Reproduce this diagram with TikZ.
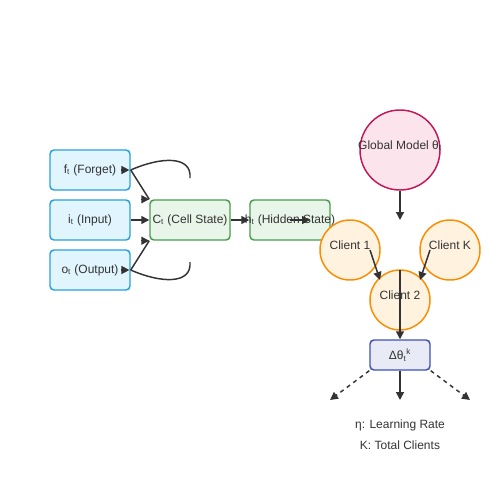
\documentclass[tikz,border=0pt]{standalone}
\usepackage{fontspec}
\setmainfont{Liberation Sans}
\usetikzlibrary{arrows.meta}
\definecolor{gateline}{HTML}{2B9FDB}
\definecolor{gatefill}{HTML}{E1F5FE}
\definecolor{stateline}{HTML}{4A9D4E}
\definecolor{statefill}{HTML}{E8F5E9}
\definecolor{globline}{HTML}{C2185B}
\definecolor{globfill}{HTML}{FCE4EC}
\definecolor{clientline}{HTML}{FB8C00}
\definecolor{clientfill}{HTML}{FFF3E0}
\definecolor{deltaline}{HTML}{3F51B5}
\definecolor{deltafill}{HTML}{E8EAF6}
\definecolor{ink}{HTML}{333333}
\newcommand{\spill}[1]{\makebox[0pt]{#1}}
\newcommand{\lift}[1]{\raisebox{0.5pt}[0pt][0pt]{#1}}
\tikzset{
	gate/.style={draw=gateline, fill=gatefill, line width=1.1pt, rounded corners=3pt, minimum width=60pt, minimum height=30pt, inner sep=0pt, text=ink, font=\fontsize{9}{11}\selectfont},
	statebox/.style={gate, draw=stateline, fill=statefill},
	client/.style={circle, draw=clientline, fill=clientfill, line width=1.1pt, minimum size=45pt, inner sep=0pt, text=ink, font=\fontsize{9}{11}\selectfont},
	wire/.style={draw=ink, line width=1.1pt},
	arr/.style={wire, -{Triangle[length=6pt,width=6pt]}},
	note/.style={text=ink, font=\fontsize{9}{11}\selectfont}
}
\begin{document}
\begin{tikzpicture}[x=0.75pt, y=-0.75pt]
	%%%%% START %%%%%
	\useasboundingbox (0,0) rectangle (500,500);
	
	% LSTM gates
	\node[gate] (forget) at (90,170) {f\textsubscript{t} (Forget)};
	\node[gate] (input) at (90,220) {i\textsubscript{t} (Input)};
	\node[gate] (output) at (90,270) {o\textsubscript{t} (Output)};
	\node[statebox] (cell) at (190,220) {\spill{C\textsubscript{t} (Cell State)}};
	\node[statebox] (hidden) at (290,220) {\spill{h\textsubscript{t} (Hidden State)}};
	
	% federated part
	\node[client, minimum size=60pt, draw=globline, fill=globfill] (global) at (400,150) {\lift{\spill{Global Model θ\textsubscript{t}}}};
	\node[client] (client1) at (350,250) {\lift{Client 1}};
	\node[client] (clientK) at (450,250) {\lift{Client K}};
	\node[client] (client2) at (400,300) {\lift{Client 2}};
	\node[gate, draw=deltaline, fill=deltafill, minimum width=45pt, minimum height=22.5pt] (delta) at (400,355) {Δθ\textsubscript{t}\textsuperscript{k}};
	
	\node[note] (eta) at (400,425) {η: Learning Rate};
	\node[note] (total) at (400,445) {K: Total Clients};
	
	\coordinate (fedin) at (400,220);
	\coordinate (c1a) at (370,250);
	\coordinate (c1b) at (380,280);
	\coordinate (cKa) at (430,250);
	\coordinate (cKb) at (420,280);
	\coordinate (c2a) at (400,270);
	\coordinate (outL) at (330,400);
	\coordinate (outM) at (400,400);
	\coordinate (outR) at (470,400);
	\coordinate (fcurve) at (190,178);
	\coordinate (ocurve) at (190,262);
	\coordinate (hmid) at (290,220);
	\coordinate (hend) at (310,220);
	
	% gate connectors
	\draw[wire] (fcurve) .. controls (192,155) and (160,157) .. (forget.east);
	\draw[wire] (ocurve) .. controls (192,285) and (160,283) .. (output.east);
	\draw[arr] ([xshift=-7pt]forget.east) -- ([xshift=-1pt]forget.east);
	\draw[arr] ([xshift=-7pt]output.east) -- ([xshift=-1pt]output.east);
	\draw[wire] (forget.east) -- (cell.north west);
	\draw[wire] (output.east) -- (cell.south west);
	\draw[arr] ([xshift=-6pt]cell.north west) -- (cell.north west);
	\draw[arr] ([xshift=-6pt]cell.south west) -- (cell.south west);
	\draw[arr] (input.east) -- (cell.west);
	\draw[arr] (cell.east) -- (hidden.west);
	\draw[arr] (hmid) -- (hend);
	
	% federated connectors
	\draw[arr] (global.south) -- (fedin);
	\draw[arr] (c1a) -- (c1b);
	\draw[arr] (cKa) -- (cKb);
	\draw[arr] (c2a) -- (delta.north);
	\draw[arr] (delta.south) -- (outM);
	\draw[arr, dashed] (delta.south west) -- (outL);
	\draw[arr, dashed] (delta.south east) -- (outR);
	
	%%%%% END %%%%%
\end{tikzpicture}
\end{document}
